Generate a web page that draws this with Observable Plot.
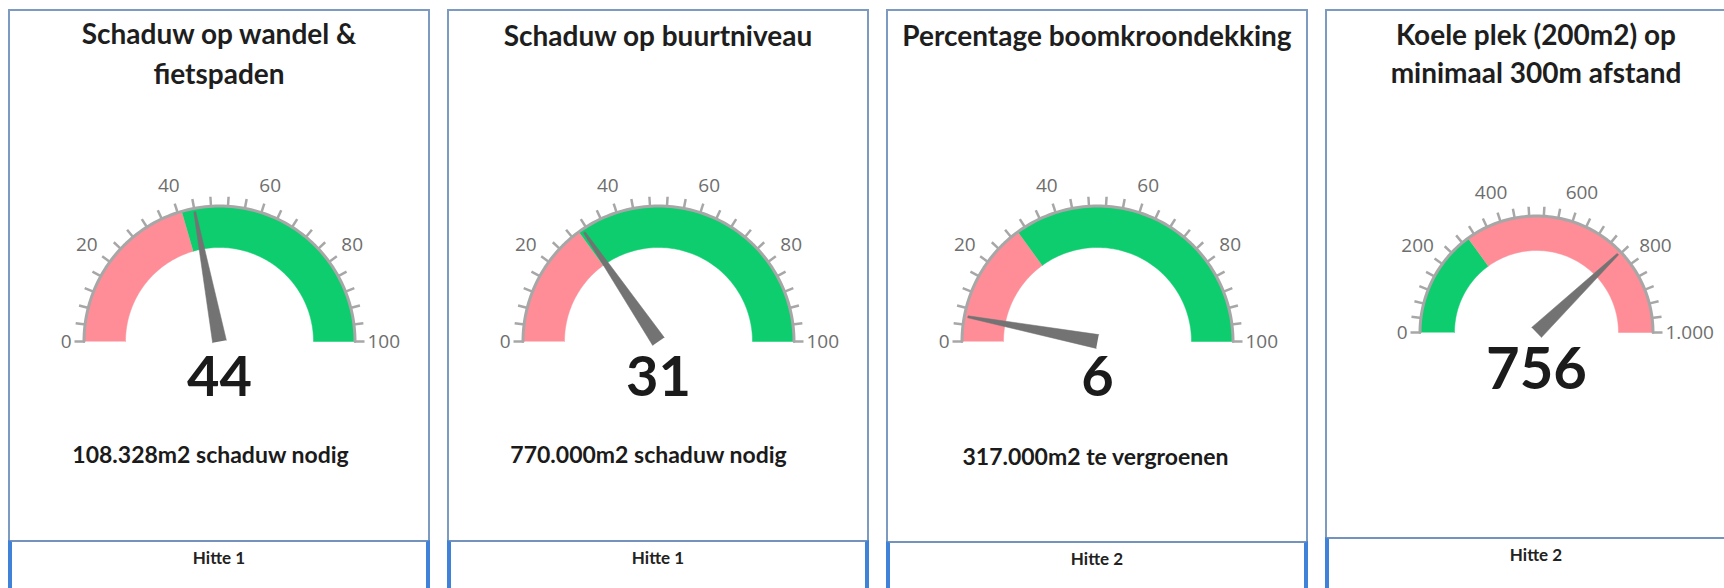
<!DOCTYPE html>
<html><head><meta charset="utf-8">
<script src="https://cdn.jsdelivr.net/npm/d3@7"></script>
<script src="https://cdn.jsdelivr.net/npm/@observablehq/plot@0.6"></script>
<style>
html,body{margin:0;padding:0;background:#fff;}
body{width:1724px;height:588px;overflow:hidden;position:relative;}
.panel{position:absolute;top:9px;width:422px;box-sizing:border-box;border:2px solid #7d9ac0;border-bottom:none;}
.foot{position:absolute;width:422px;height:80px;box-sizing:border-box;border-left:4px solid #3f82d8;border-right:4px solid #3f82d8;border-top:2px solid #7393bd;font:bold 17px Lato, sans-serif;color:#222;text-align:center;line-height:32px;}
.title{position:absolute;left:0;width:418px;text-align:center;font:bold 28px Lato,sans-serif;color:#1e1e1e;}
.plot{position:absolute;left:0;top:0}
</style></head><body>
<script>
// ---- data ----
const titles = [["Schaduw op wandel &", "fietspaden"], ["Schaduw op buurtniveau"], ["Percentage boomkroondekking"], ["Koele plek (200m2) op", "minimaal 300m afstand"]];
const values = [44, 31, 6, 756];
const maxima = [100, 100, 100, 1000];
const splits = [41, 30, 30, 300];
const lowIsGood = [false, false, false, true];
const tickLabels = [[0, 20, 40, 60, 80, 100], [0, 20, 40, 60, 80, 100], [0, 20, 40, 60, 80, 100], [0, 200, 400, 600, 800, 1000]];
const minorIntervals = [25, 25, 25, 25];
const subtitles = ["108.328m2 schaduw nodig", "770.000m2 schaduw nodig", "317.000m2 te vergroenen", ""];
const footers = ["Hitte 1", "Hitte 1", "Hitte 2", "Hitte 2"];

// ---- layout / style ----
const PINK = "#ff8d97", GREEN = "#0dcd6f", GREY = "#a7a7a7", NEEDLE = "#737373";
const layout = [
  {left: 8,    cy: 330, R: 135, r: 94, labOff: 29, numY: -37, numSize: 56, subY: -114, subDx: -9, footTop: 541, titleTop: 13, lh: 40},
  {left: 447,  cy: 330, R: 135, r: 94, labOff: 29, numY: -37, numSize: 56, subY: -114, subDx: -10, footTop: 541, titleTop: 15, lh: 40},
  {left: 886,  cy: 330, R: 135, r: 94, labOff: 29, numY: -37, numSize: 56, subY: -116, subDx: -2, footTop: 542, titleTop: 15, lh: 40},
  {left: 1325, cy: 321, R: 116, r: 82, labOff: 31, numY: -38, numSize: 58, subY: -114, subDx: 0, footTop: 538, titleTop: 15, lh: 38}
];
const W = 418, H = 470;
const nl = d3.formatLocale({decimal: ",", thousands: ".", grouping: [3], currency: ["€", ""]});
const fmt = nl.format(",d");

function ring(v0, v1, rO, rI, ang) {
  const n = 80, pts = [];
  for (let k = 0; k <= n; k++) { const t = ang(v0 + (v1 - v0) * k / n); pts.push({x: rO * Math.cos(t), y: rO * Math.sin(t)}); }
  for (let k = n; k >= 0; k--) { const t = ang(v0 + (v1 - v0) * k / n); pts.push({x: rI * Math.cos(t), y: rI * Math.sin(t)}); }
  return pts;
}

for (let i = 0; i < 4; i++) {
  const L = layout[i], max = maxima[i];
  const ang = d3.scaleLinear([0, max], [Math.PI, 0]);
  const lowCol = lowIsGood[i] ? GREEN : PINK, highCol = lowIsGood[i] ? PINK : GREEN;

  const panel = document.createElement("div");
  panel.className = "panel";
  panel.style.left = L.left + "px";
  panel.style.height = (L.footTop - 9) + "px";
  document.body.appendChild(panel);

  const t = document.createElement("div");
  t.className = "title";
  t.style.top = (L.titleTop - 11) + "px";
  t.style.lineHeight = L.lh + "px";
  t.innerHTML = titles[i].join("<br>");
  panel.appendChild(t);

  const lowSeg = ring(0, splits[i], L.R, L.r, ang);
  const highSeg = ring(splits[i], max, L.R, L.r, ang);
  const rim = d3.range(0, 121).map(k => { const a = ang(max * k / 120); return {x: (L.R + 0.5) * Math.cos(a), y: (L.R + 0.5) * Math.sin(a)}; });
  const ticks = d3.range(0, minorIntervals[i] + 1).map(k => max * k / minorIntervals[i]);
  const tickLen = 10;
  const labelsMid = tickLabels[i].filter(v => v > 0 && v < max);
  const labelsStart = tickLabels[i].filter(v => v === 0);
  const labelsEnd = tickLabels[i].filter(v => v === max);

  const v = values[i], th = ang(v), nL = L.R - 3;
  const ux = Math.cos(th), uy = Math.sin(th), px = -uy, py = ux;
  const needle = [
    {x: px * 7, y: py * 7},
    {x: ux * nL + px * 1, y: uy * nL + py * 1},
    {x: ux * nL - px * 1, y: uy * nL - py * 1},
    {x: -px * 7, y: -py * 7}
  ];

  const chart = Plot.plot({
    width: W, height: H, margin: 0,
    x: {domain: [-W / 2, W / 2], range: [0, W], axis: null},
    y: {domain: [L.cy - H, L.cy], range: [H, 0], axis: null},
    style: {background: "transparent", overflow: "visible"},
    marks: [
      Plot.line(lowSeg, {x: "x", y: "y", fill: lowCol, stroke: lowCol, strokeWidth: 0.5}),
      Plot.line(highSeg, {x: "x", y: "y", fill: highCol, stroke: highCol, strokeWidth: 0.5}),
      Plot.line(rim, {x: "x", y: "y", stroke: GREY, strokeWidth: 3}),
      Plot.link(ticks, {
        x1: d => L.R * Math.cos(ang(d)), y1: d => L.R * Math.sin(ang(d)),
        x2: d => (L.R + tickLen) * Math.cos(ang(d)), y2: d => (L.R + tickLen) * Math.sin(ang(d)),
        stroke: GREY, strokeWidth: 2.5
      }),
      Plot.text(labelsMid, {
        x: d => (L.R + L.labOff) * Math.cos(ang(d)), y: d => (L.R + L.labOff) * Math.sin(ang(d)),
        text: d => fmt(d), fontSize: 19, fill: "#6e6e6e", fontFamily: "Open Sans", textAnchor: "middle"
      }),
      Plot.text(labelsStart, {
        x: d => (L.R + 13) * Math.cos(ang(d)), y: d => (L.R + 13) * Math.sin(ang(d)),
        text: d => fmt(d), fontSize: 19, fill: "#6e6e6e", fontFamily: "Open Sans", textAnchor: "end"
      }),
      Plot.text(labelsEnd, {
        x: d => (L.R + 13) * Math.cos(ang(d)), y: d => (L.R + 13) * Math.sin(ang(d)),
        text: d => fmt(d), fontSize: 19, fill: "#6e6e6e", fontFamily: "Open Sans", textAnchor: "start"
      }),
      Plot.line(needle, {x: "x", y: "y", fill: NEEDLE, stroke: NEEDLE, strokeWidth: 0.5}),
      Plot.text([v], {x: () => 0, y: () => L.numY, text: d => fmt(d), fontSize: L.numSize, fontWeight: 700, fill: "#1b1b1b", fontFamily: "Lato"}),
      Plot.text([subtitles[i]].filter(s => s), {x: () => L.subDx, y: () => L.subY, text: d => d, fontSize: 23, fontWeight: 700, fill: "#1b1b1b", fontFamily: "Lato"})
    ]
  });
  chart.classList.add("plot");
  panel.appendChild(chart);

  const f = document.createElement("div");
  f.className = "foot";
  f.style.left = L.left + "px";
  f.style.top = (L.footTop - 1) + "px";
  f.textContent = footers[i];
  document.body.appendChild(f);
}
</script></body></html>
